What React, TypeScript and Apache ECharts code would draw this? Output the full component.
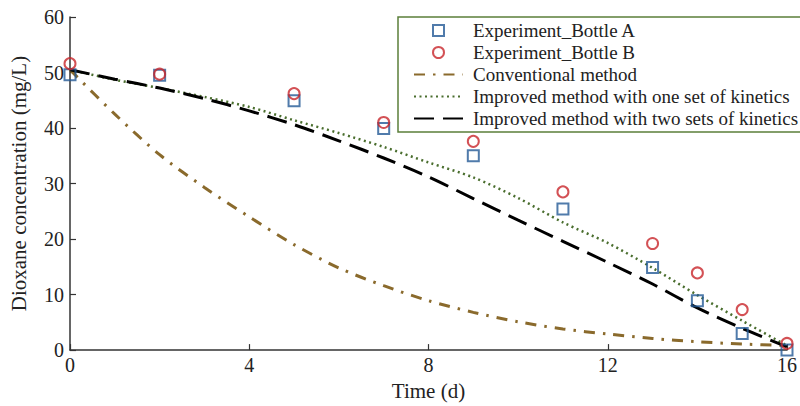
import React, { useEffect, useRef } from "react";
import * as echarts from "echarts";

const times = [0, 1, 2, 3, 4, 5, 6, 7, 8, 9, 10, 11, 12, 13, 14, 15, 16];
const conventional = [50.5, 42.5, 35.2, 29.3, 24.0, 19.0, 14.8, 11.6, 8.9, 6.8, 5.1, 3.8, 2.9, 2.1, 1.5, 1.1, 0.8];
const improvedOne = [50.5, 48.7, 47.2, 45.6, 43.8, 41.4, 39.1, 36.6, 33.8, 31.1, 27.4, 23.0, 19.3, 14.8, 9.9, 5.3, 0.8];
const improvedTwo = [50.5, 48.8, 47.2, 45.3, 43.1, 40.6, 37.7, 34.6, 31.2, 27.3, 23.4, 19.6, 15.8, 11.9, 7.6, 3.9, 0.6];

const expDays = [0, 2, 5, 7, 9, 11, 13, 14, 15, 16];
const bottleA = [49.6, 49.5, 44.9, 39.9, 35.0, 25.4, 14.9, 8.9, 3.0, 0.0];
const bottleB = [51.6, 49.7, 46.2, 41.0, 37.6, 28.5, 19.2, 13.9, 7.3, 1.2];

const xTicks = [0, 4, 8, 12, 16];

const FONT = "'Liberation Serif', 'Times New Roman', serif";

const zip = (xs: number[], ys: number[]) => xs.map((x, i) => [x, ys[i]]);

export default function App() {
  const ref = useRef<HTMLDivElement>(null);
  useEffect(() => {
    if (!ref.current) return;
    const chart = echarts.init(ref.current, undefined, { renderer: "svg" });
    const hideSym = { opacity: 0 };
    chart.setOption({
      animation: false,
      backgroundColor: "#ffffff",
      textStyle: { fontFamily: FONT },
      grid: { left: 70, right: 6, top: 17, bottom: 54, containLabel: false },
      xAxis: {
        type: "value",
        min: 0,
        max: 16,
        interval: 4,
        name: "Time (d)",
        nameLocation: "middle",
        nameGap: 22,
        nameTextStyle: { fontFamily: FONT, fontSize: 21, color: "#222" },
        axisLine: { show: true, lineStyle: { color: "#333", width: 1.5 } },
        axisTick: { show: true, inside: true, length: 6, lineStyle: { color: "#333", width: 1.2 } },
        axisLabel: {
          fontFamily: FONT,
          fontSize: 20,
          color: "#222",
          margin: 5,
          formatter: (v: number) => (xTicks.includes(v) ? String(v) : ""),
        },
        splitLine: { show: false },
      },
      yAxis: {
        type: "value",
        min: 0,
        max: 60,
        interval: 10,
        name: "Dioxane concentration (mg/L)",
        nameLocation: "middle",
        nameGap: 41,
        nameTextStyle: { fontFamily: FONT, fontSize: 21, color: "#222" },
        axisLine: { show: true, lineStyle: { color: "#333", width: 1.5 } },
        axisTick: { show: true, inside: true, length: 6, lineStyle: { color: "#333", width: 1.2 } },
        axisLabel: { fontFamily: FONT, fontSize: 20, color: "#222", margin: 6 },
        splitLine: { show: false },
      },
      legend: {
        orient: "vertical",
        left: 398,
        top: 17,
        padding: [4, 20, 4, 15],
        itemGap: 3,
        itemWidth: 49,
        itemHeight: 11,
        borderColor: "#5b7f3a",
        borderWidth: 1.5,
        backgroundColor: "#ffffff",
        textStyle: { fontFamily: FONT, fontSize: 19, color: "#222", lineHeight: 18, padding: [0, 0, 0, 5] },
        data: [
          { name: "Experiment_Bottle A", icon: "path://M0,0L10,0L10,10L0,10Z" },
          { name: "Experiment_Bottle B", icon: "circle" },
          { name: "Conventional method", itemStyle: hideSym },
          { name: "Improved method with one set of kinetics", itemStyle: hideSym },
          { name: "Improved method with two sets of kinetics", itemStyle: hideSym },
        ],
      },
      series: [
        {
          name: "Conventional method",
          type: "line",
          data: zip(times, conventional),
          smooth: 0.3,
          symbol: "none",
          itemStyle: { color: "#8a6a2c" },
          lineStyle: { color: "#8a6a2c", width: 3, type: [11, 8, 2.5, 8] },
          z: 2,
        },
        {
          name: "Improved method with one set of kinetics",
          type: "line",
          data: zip(times, improvedOne),
          smooth: 0.3,
          symbol: "none",
          itemStyle: { color: "#4a6e2e" },
          lineStyle: { color: "#4a6e2e", width: 2.5, type: [2, 3.5] },
          z: 2,
        },
        {
          name: "Improved method with two sets of kinetics",
          type: "line",
          data: zip(times, improvedTwo),
          smooth: 0.3,
          symbol: "none",
          itemStyle: { color: "#000000" },
          lineStyle: { color: "#000000", width: 3, type: [20, 9] },
          z: 2,
        },
        {
          name: "Experiment_Bottle A",
          type: "scatter",
          data: zip(expDays, bottleA),
          symbol: "rect",
          symbolSize: 11,
          itemStyle: { color: "none", borderColor: "#245a96", borderWidth: 2 },
          z: 3,
        },
        {
          name: "Experiment_Bottle B",
          type: "scatter",
          data: zip(expDays, bottleB),
          symbol: "circle",
          symbolSize: 11,
          itemStyle: { color: "none", borderColor: "#c8262a", borderWidth: 2 },
          z: 4,
        },
      ],
    });
    return () => chart.dispose();
  }, []);
  return (
    <div
      ref={ref}
      style={{ position: "fixed", left: 0, top: 0, width: 800, height: 406, background: "#fff" }}
    />
  );
}
